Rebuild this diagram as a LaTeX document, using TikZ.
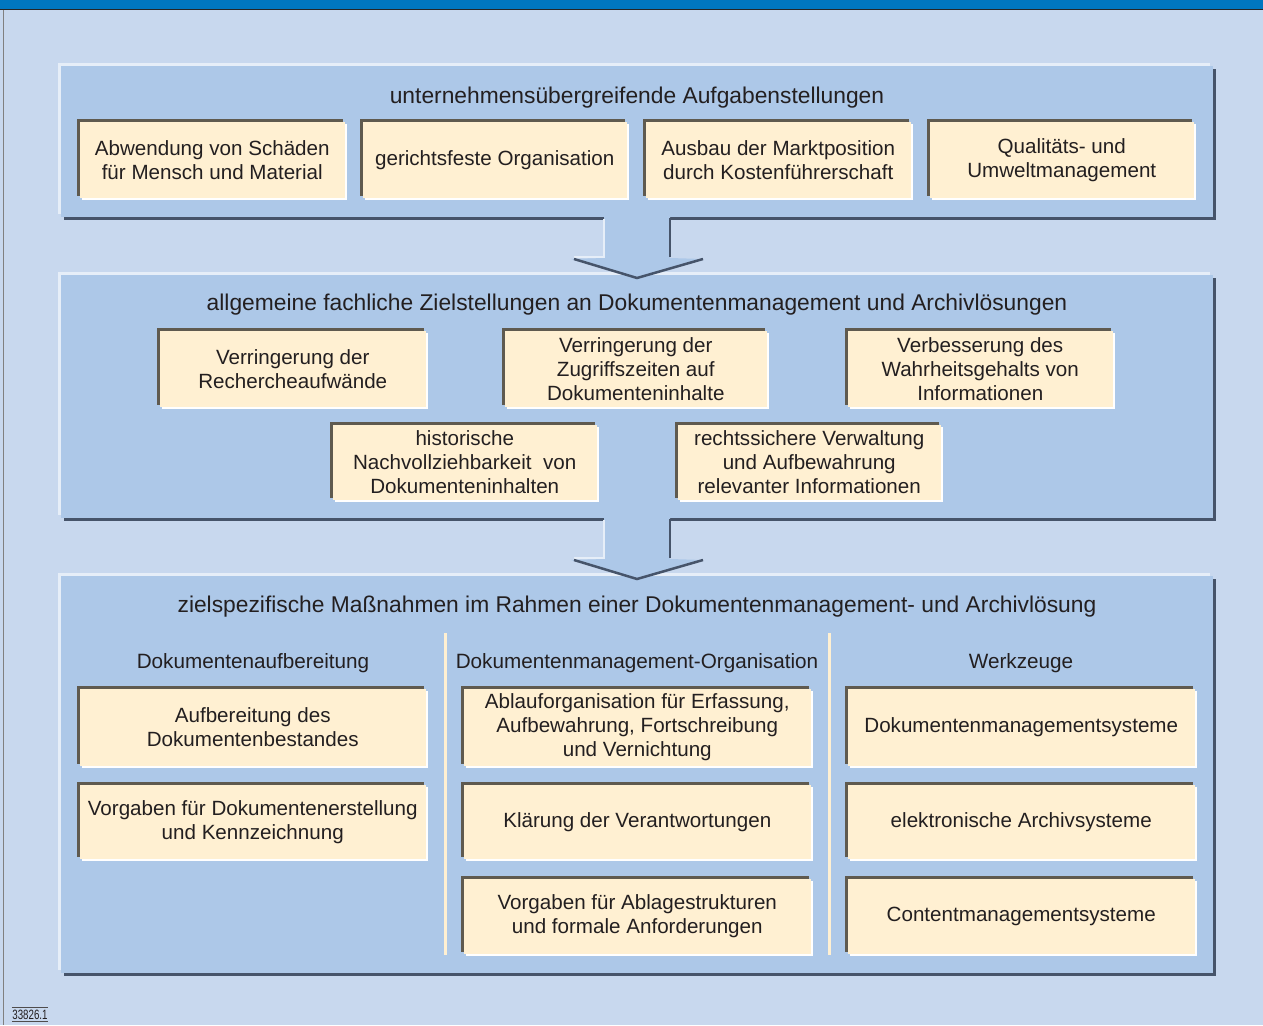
\documentclass[tikz,border=0pt]{standalone}
\usepackage{fontspec}
\setmainfont{Liberation Sans}
\usetikzlibrary{shadows,calc}
\definecolor{bgblue}{HTML}{C8D8EE}
\definecolor{topblue}{HTML}{0077C0}
\definecolor{panelfill}{HTML}{ADC8E8}
\definecolor{panelhi}{HTML}{E6EEF8}
\definecolor{paneldark}{HTML}{46546A}
\definecolor{boxfill}{HTML}{FFF0D2}
\definecolor{boxdark}{HTML}{5F5A4F}
\definecolor{txt}{HTML}{231F20}
\begin{document}
\begin{tikzpicture}[x=1pt,y=-1pt,
  panel/.style={fill=panelfill, inner sep=0pt, outer sep=0pt,
    general shadow={fill=panelhi, shadow xshift=-3pt, shadow yshift=3pt},
    general shadow={fill=paneldark, shadow xshift=3pt, shadow yshift=-3pt}},
  box/.style={fill=boxfill, inner sep=2pt, outer sep=0pt, align=center, text=txt,
    font=\fontsize{20.6}{24}\selectfont,
    general shadow={fill=boxdark, shadow xshift=-2.5pt, shadow yshift=2.5pt},
    general shadow={fill=white, shadow xshift=2pt, shadow yshift=-2pt}},
  head/.style={text=txt, font=\fontsize{22.8}{26}\selectfont, inner sep=0pt},
  colhead/.style={text=txt, font=\fontsize{20.7}{24}\selectfont, inner sep=0pt},
  sep/.style={draw=boxfill, line width=3pt},
  arrowfill/.style={fill=panelfill},
  arrowhi/.style={draw=panelhi, line width=2pt},
  arrowdark/.style={draw=paneldark, line width=2.5pt, line join=miter}
]
\useasboundingbox (0,0) rectangle (1263,1025);
\fill[bgblue] (0,0) rectangle (1263,1025);
\fill[topblue] (0,0) rectangle (1263,9);
\draw[black!85, line width=1pt] (0,9.5) -- (1263,9.5);
\draw[gray, line width=1.5pt] (3.5,10) -- (3.5,1025);

% panels
\node[panel, minimum width=1152pt, minimum height=151pt] (p1) at (637,141.5) {};
\node[panel, minimum width=1152pt, minimum height=243pt] (p2) at (637,396.5) {};
\node[panel, minimum width=1152pt, minimum height=397pt] (p3) at (637,774.5) {};

% arrows
\foreach \a/\b in {p1/p2, p2/p3}{
  \fill[arrowfill] ($(\a.south)+(-33,0)$) -- ($(\a.south)+(33,0)$) -- ($(\a.south)+(33,41)$)
     -- ($(\a.south)+(66,42)$) -- ($(\b.north)+(0,3)$) -- ($(\a.south)+(-66,42)$)
     -- ($(\a.south)+(-33,41)$) -- cycle;
  \draw[arrowhi] ($(\a.south)+(-33,2)$) -- ($(\a.south)+(-33,40)$) -- ($(\a.south)+(-63,40)$);
  \draw[arrowdark] ($(\a.south)+(33,1)$) -- ($(\a.south)+(33,40)$);
  \draw[arrowdark] ($(\a.south)+(-63,42)$) -- ($(\b.north)+(0,3)$) -- ($(\a.south)+(66,42)$);
}

% panel 1
\node[head] (h1) at (637,98) {unternehmensübergreifende Aufgabenstellungen};
\node[box, minimum width=265.5pt, minimum height=76.5pt] (b11) at (212.25,159.75) {Abwendung von Schäden\\für Mensch und Material};
\node[box, minimum width=264.5pt, minimum height=76.5pt] (b12) at (494.75,159.75) {gerichtsfeste Organisation};
\node[box, minimum width=265.5pt, minimum height=76.5pt] (b13) at (778.25,159.75) {Ausbau der Marktposition\\durch Kostenführerschaft};
\node[box, minimum width=264.5pt, minimum height=76.5pt] (b14) at (1061.75,159.75) {Qualitäts- und\\Umweltmanagement};

% panel 2
\node[head] (h2) at (637,305) {allgemeine fachliche Zielstellungen an Dokumentenmanagement und Archivlösungen};
\node[box, minimum width=266.5pt, minimum height=76.5pt] (b21) at (292.75,368.75) {Verringerung der\\Rechercheaufwände};
\node[box, minimum width=262.5pt, minimum height=76.5pt] (b22) at (635.75,368.75) {Verringerung der\\Zugriffszeiten auf\\Dokumenteninhalte};
\node[box, minimum width=265.5pt, minimum height=76.5pt] (b23) at (980.25,368.75) {Verbesserung des\\Wahrheitsgehalts von\\Informationen};
\node[box, minimum width=264.5pt, minimum height=75.5pt] (b24) at (464.75,462.25) {historische\\Nachvollziehbarkeit\ \ von\\Dokumenteninhalten};
\node[box, minimum width=263.5pt, minimum height=75.5pt] (b25) at (809.25,462.25) {rechtssichere Verwaltung\\und Aufbewahrung\\relevanter Informationen};

% panel 3
\node[head] (h3) at (637,607) {zielspezifische Maßnahmen im Rahmen einer Dokumentenmanagement- und Archivlösung};
\node[colhead] (c1) at (253,663) {Dokumentenaufbereitung};
\node[colhead] (c2) at (637,663) {Dokumentenmanagement-Organisation};
\node[colhead] (c3) at (1021,663) {Werkzeuge};
\coordinate (s1a) at (445,633); \coordinate (s1b) at (445,955);
\coordinate (s2a) at (829,633); \coordinate (s2b) at (829,955);
\draw[sep] (s1a) -- (s1b);
\draw[sep] (s2a) -- (s2b);

\node[box, minimum width=346.5pt, minimum height=77.5pt] (b31) at (252.75,727.25) {Aufbereitung des\\Dokumentenbestandes};
\node[box, minimum width=346.5pt, minimum height=74.5pt] (b32) at (252.75,821.75) {Vorgaben für Dokumentenerstellung\\und Kennzeichnung};
\node[box, minimum width=347.5pt, minimum height=77.5pt] (b33) at (637.25,727.25) {Ablauforganisation für Erfassung,\\Aufbewahrung, Fortschreibung\\und Vernichtung};
\node[box, minimum width=347.5pt, minimum height=74.5pt] (b34) at (637.25,821.75) {Klärung der Verantwortungen};
\node[box, minimum width=347.5pt, minimum height=75.5pt] (b35) at (637.25,916.25) {Vorgaben für Ablagestrukturen\\und formale Anforderungen};
\node[box, minimum width=347.5pt, minimum height=77.5pt] (b36) at (1021.25,727.25) {Dokumentenmanagementsysteme};
\node[box, minimum width=347.5pt, minimum height=74.5pt] (b37) at (1021.25,821.75) {elektronische Archivsysteme};
\node[box, minimum width=347.5pt, minimum height=75.5pt] (b38) at (1021.25,916.25) {Contentmanagementsysteme};

% footer
\node[text=txt, font=\fontsize{13.5}{14}\selectfont, inner sep=0pt, minimum width=36pt, minimum height=14pt] (fn) at (30,1014.5) {\scalebox{0.72}[1]{33826.1}};
\draw[txt!80, line width=1pt] (fn.north west) -- (fn.north east);
\draw[txt!80, line width=1pt] (fn.south west) -- (fn.south east);
\end{tikzpicture}
\end{document}
